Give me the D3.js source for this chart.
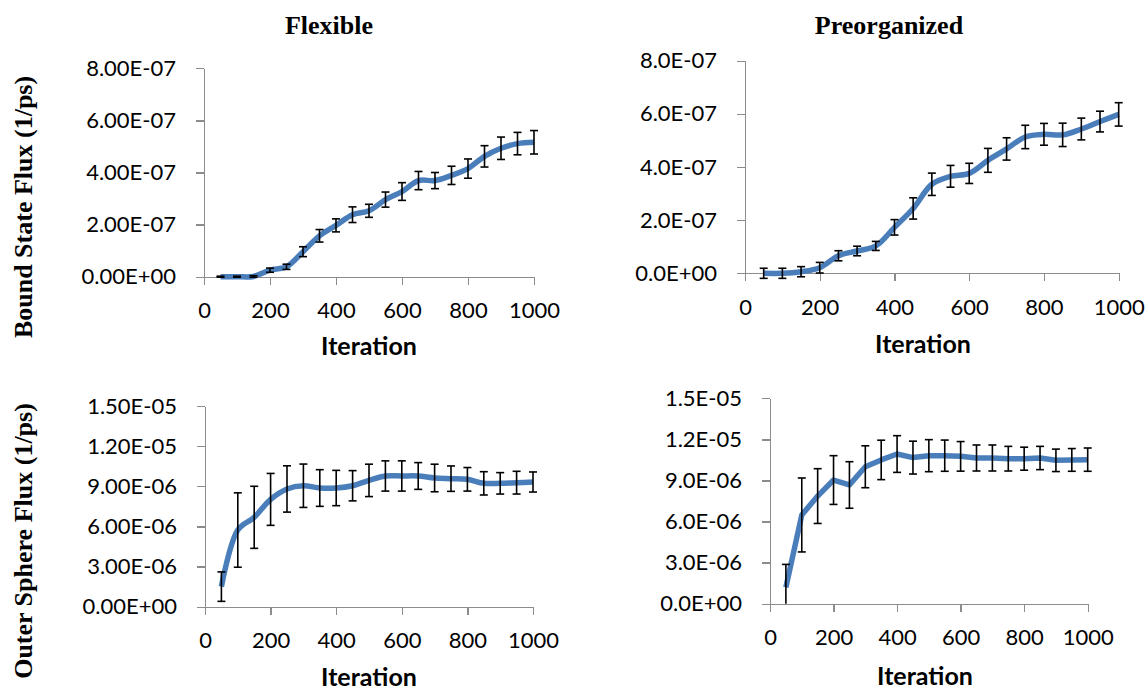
<!DOCTYPE html>
<html>
<head>
<meta charset="utf-8">
<script src="https://cdn.jsdelivr.net/npm/d3@7"></script>
<style>
  body { margin: 0; background: #fff; }
  .axis path, .axis line { stroke: #8c8c8c; stroke-width: 1.3; shape-rendering: crispEdges; }
  .axis text { font-family: Lato, 'Open Sans', sans-serif; font-size: 22px; fill: #000; }
  .title, .ylabel { font-family: 'Liberation Serif', 'DejaVu Serif', serif; font-weight: bold; font-size: 26px; fill: #000; }
  .xlabel { font-family: Lato, 'Open Sans', sans-serif; font-weight: bold; font-size: 25px; fill: #000; }
</style>
</head>
<body>
<div id="chart"></div>
<script>
// x categories (iteration)
var iterations = [50, 100, 150, 200, 250, 300, 350, 400, 450, 500,
                  550, 600, 650, 700, 750, 800, 850, 900, 950, 1000];

// bound state flux, in units of 1E-07 1/ps
var flexBound    = [0, 0, 0.01, 0.25, 0.38, 0.96, 1.57, 1.97, 2.38, 2.53,
                    2.96, 3.27, 3.69, 3.69, 3.89, 4.15, 4.62, 4.93, 5.11, 5.16];
var flexBoundErr = [0.02, 0.02, 0.03, 0.08, 0.1, 0.19, 0.24, 0.25, 0.3, 0.25,
                    0.29, 0.34, 0.35, 0.31, 0.35, 0.37, 0.41, 0.43, 0.43, 0.45];
var preBound     = [0, 0, 0.06, 0.21, 0.66, 0.84, 1.03, 1.73, 2.44, 3.35,
                    3.65, 3.76, 4.25, 4.68, 5.13, 5.23, 5.21, 5.43, 5.71, 5.98];
var preBoundErr  = [0.19, 0.19, 0.19, 0.2, 0.19, 0.18, 0.17, 0.29, 0.4, 0.42,
                    0.41, 0.38, 0.45, 0.42, 0.44, 0.41, 0.44, 0.41, 0.39, 0.44];

// outer sphere flux, in units of 1E-06 1/ps
var flexOuter    = [1.5, 5.73, 6.68, 8.02, 8.8, 9.04, 8.87, 8.87, 9.04, 9.44,
                    9.77, 9.77, 9.77, 9.62, 9.57, 9.52, 9.22, 9.22, 9.27, 9.32];
var flexOuterErr = [1.1, 2.78, 2.32, 1.94, 1.73, 1.62, 1.37, 1.32, 1.13, 1.21,
                    1.13, 1.13, 1.0, 1.03, 0.95, 0.88, 0.87, 0.8, 0.85, 0.75];
var preOuter     = [1.19, 6.48, 7.86, 9.03, 8.67, 10.0, 10.5, 10.93, 10.67, 10.81,
                    10.81, 10.76, 10.64, 10.64, 10.59, 10.59, 10.64, 10.47, 10.5, 10.52];
var preOuterErr  = [1.68, 2.7, 2.0, 1.78, 1.7, 1.53, 1.44, 1.34, 1.2, 1.17,
                    1.14, 1.08, 0.95, 0.95, 0.9, 0.84, 0.85, 0.82, 0.83, 0.85];

// ticks
var xTicks = [0, 200, 400, 600, 800, 1000];
var boundTicks = [0, 2, 4, 6, 8];
var outerTicks = [0, 3, 6, 9, 12, 15];
var flexBoundLabels = ['0.00E+00', '2.00E-07', '4.00E-07', '6.00E-07', '8.00E-07'];
var preBoundLabels  = ['0.0E+00', '2.0E-07', '4.0E-07', '6.0E-07', '8.0E-07'];
var flexOuterLabels = ['0.00E+00', '3.00E-06', '6.00E-06', '9.00E-06', '1.20E-05', '1.50E-05'];
var preOuterLabels  = ['0.0E+00', '3.0E-06', '6.0E-06', '9.0E-06', '1.2E-05', '1.5E-05'];

var titles = ['Flexible', 'Preorganized'];
var yTitles = ['Bound State Flux (1/ps)', 'Outer Sphere Flux (1/ps)'];
var xTitle = 'Iteration';

var blue = '#4a7ebb';

var svg = d3.select('#chart').append('svg')
    .attr('width', 1148)
    .attr('height', 690);

// plot areas: left, right, top, bottom
var panels = [
  {box: [204, 534, 68.3, 276.7], values: flexBound, err: flexBoundErr, ticks: boundTicks,
   labels: flexBoundLabels, curve: d3.curveCatmullRom, clip: false, xlab: [369, 355]},
  {box: [745, 1118.7, 60.7, 273.3], values: preBound, err: preBoundErr, ticks: boundTicks,
   labels: preBoundLabels, curve: d3.curveCatmullRom, clip: false, xlab: [923, 353]},
  {box: [205, 533, 406, 606.7], values: flexOuter, err: flexOuterErr, ticks: outerTicks,
   labels: flexOuterLabels, curve: d3.curveCatmullRom, clip: true, xlab: [369, 686]},
  {box: [770, 1087.7, 398.3, 603.7], values: preOuter, err: preOuterErr, ticks: outerTicks,
   labels: preOuterLabels, curve: d3.curveLinear, clip: true, xlab: [925, 685]}
];

panels.forEach(function(p) {
  var xScale = d3.scaleLinear().domain([0, 1000]).range([p.box[0], p.box[1]]);
  var yScale = d3.scaleLinear()
      .domain([0, p.ticks[p.ticks.length - 1]])
      .range([p.box[3], p.box[2]])
      .clamp(p.clip);

  svg.append('g')
      .attr('class', 'axis')
      .attr('transform', 'translate(0,' + p.box[3] + ')')
      .call(d3.axisBottom(xScale).tickValues(xTicks).tickSize(8).tickSizeOuter(0).tickPadding(18)
        .tickFormat(d3.format('d')));

  svg.append('g')
      .attr('class', 'axis')
      .attr('transform', 'translate(' + p.box[0] + ',0)')
      .call(d3.axisLeft(yScale).tickValues(p.ticks).tickSize(8).tickSizeOuter(0).tickPadding(20)
        .tickFormat(function(d, i) { return p.labels[i]; }));

  var pts = iterations.map(function(it, i) {
    return {x: it, y: p.values[i], e: p.err[i]};
  });

  var line = d3.line()
      .x(function(d) { return xScale(d.x); })
      .y(function(d) { return yScale(d.y); })
      .curve(p.curve);

  svg.append('path')
      .datum(pts)
      .attr('d', line)
      .style('fill', 'none')
      .style('stroke', blue)
      .style('stroke-width', 5.5)
      .style('stroke-linejoin', 'round');

  // error bars on top of the line
  var bars = svg.append('g')
      .style('stroke', '#000')
      .style('stroke-width', 1.6)
    .selectAll('g')
      .data(pts)
    .enter().append('g');

  bars.append('line')
      .attr('x1', function(d) { return xScale(d.x); })
      .attr('x2', function(d) { return xScale(d.x); })
      .attr('y1', function(d) { return yScale(d.y - d.e); })
      .attr('y2', function(d) { return yScale(d.y + d.e); });

  bars.append('line')
      .attr('x1', function(d) { return xScale(d.x) - 4; })
      .attr('x2', function(d) { return xScale(d.x) + 4; })
      .attr('y1', function(d) { return yScale(d.y + d.e); })
      .attr('y2', function(d) { return yScale(d.y + d.e); });

  bars.filter(function(d) { return !p.clip || d.y - d.e > 0; })
    .append('line')
      .attr('x1', function(d) { return xScale(d.x) - 4; })
      .attr('x2', function(d) { return xScale(d.x) + 4; })
      .attr('y1', function(d) { return yScale(d.y - d.e); })
      .attr('y2', function(d) { return yScale(d.y - d.e); });

  svg.append('text')
      .attr('class', 'xlabel')
      .attr('x', p.xlab[0])
      .attr('y', p.xlab[1])
      .style('text-anchor', 'middle')
      .text(xTitle);
});

svg.selectAll('.title')
    .data(titles)
  .enter().append('text')
    .attr('class', 'title')
    .attr('x', function(d, i) { return [329, 889][i]; })
    .attr('y', 34)
    .style('text-anchor', 'middle')
    .text(function(d) { return d; });

svg.selectAll('.ylabel')
    .data(yTitles)
  .enter().append('text')
    .attr('class', 'ylabel')
    .attr('transform', function(d, i) { return 'translate(32,' + [207, 541][i] + ') rotate(-90)'; })
    .style('text-anchor', 'middle')
    .text(function(d) { return d; });
</script>
</body>
</html>
